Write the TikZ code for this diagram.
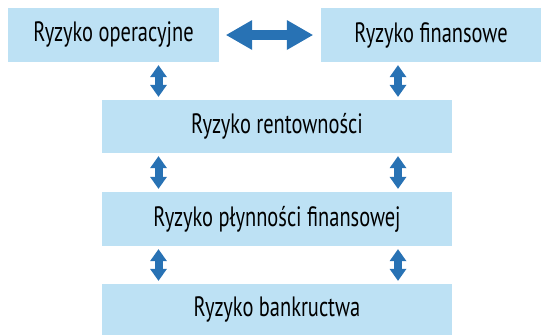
\documentclass[tikz,border=0pt]{standalone}
\usepackage{fontspec}
\setmainfont[FakeStretch=0.73]{PT Sans}
\usetikzlibrary{arrows.meta}
\definecolor{boxblue}{RGB}{189,225,244}
\definecolor{arrowblue}{RGB}{40,114,180}
\tikzset{
  riskbox/.style={fill=boxblue, draw=none, inner sep=0pt, text=black,
    font=\fontsize{28}{32}\selectfont},
  vlink/.style={draw=arrowblue, line width=8pt, {Triangle[width=17pt,length=12pt,line width=0pt]}-{Triangle[width=17pt,length=12pt,line width=0pt]},
    shorten <=3pt, shorten >=3pt},
  hlink/.style={draw=arrowblue, line width=10pt, {Triangle[width=30pt,length=26pt,line width=0pt]}-{Triangle[width=30pt,length=26pt,line width=0pt]},
    shorten <=7pt, shorten >=8pt},
}
\begin{document}
\begin{tikzpicture}[x=1pt,y=-1pt]
\useasboundingbox (0,0) rectangle (541,335);
% risk boxes
\node[riskbox, minimum width=211pt, minimum height=54pt] (op) at (113.5,35) {Ryzyko operacyjne};
\node[riskbox, minimum width=220pt, minimum height=54pt] (fin) at (431,35) {Ryzyko finansowe};
\node[riskbox, minimum width=350pt, minimum height=53pt] (rent) at (277,126.5) {Ryzyko rentowności};
\node[riskbox, minimum width=350pt, minimum height=54pt] (plyn) at (277,219) {Ryzyko płynności finansowej};
\node[riskbox, minimum width=350pt, minimum height=51pt] (bank) at (277,309.5) {Ryzyko bankructwa};
% arrow columns
\coordinate (L) at (158.5,0);
\coordinate (R) at (398,0);
% links
\draw[hlink] (op.east) -- (fin.west);
\draw[vlink] (op.south -| L) -- (rent.north -| L);
\draw[vlink] (fin.south -| R) -- (rent.north -| R);
\draw[vlink] (rent.south -| L) -- (plyn.north -| L);
\draw[vlink] (rent.south -| R) -- (plyn.north -| R);
\draw[vlink] (plyn.south -| L) -- (bank.north -| L);
\draw[vlink] (plyn.south -| R) -- (bank.north -| R);
\end{tikzpicture}
\end{document}
